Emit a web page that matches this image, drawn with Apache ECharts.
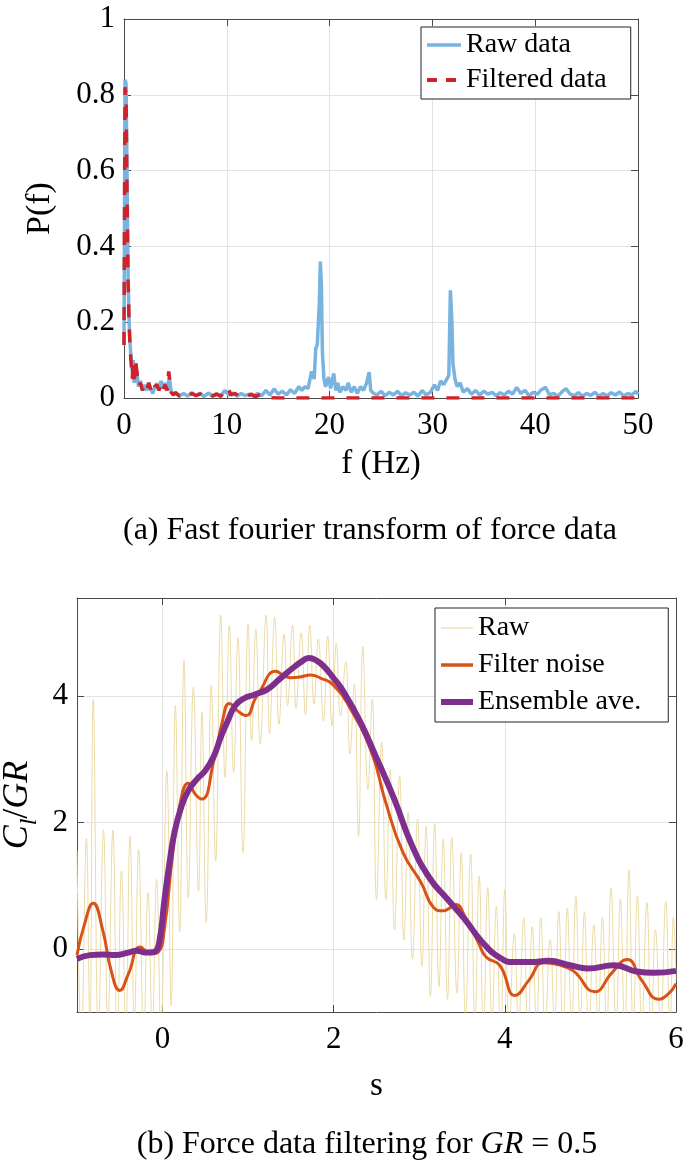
<!DOCTYPE html>
<html><head><meta charset="utf-8">
<script src="https://cdn.jsdelivr.net/npm/echarts@6/dist/echarts.min.js"></script>
<style>html,body{margin:0;padding:0;background:#fff}#c{width:685px;height:1170px}</style>
</head><body><div id="c"></div>
<script>
// ---------- (a) FFT data: [frequency Hz, P(f)] ----------
const fftRaw = [[0,0.14],[0.1,0.84],[0.2,0.83],[0.3,0.58],[0.4,0.32],[0.5,0.2],[0.6,0.14],[0.7,0.1],[0.8,0.07],[0.9,0.1],[1.0,0.04],[1.1,0.09],[1.25,0.07],[1.4,0.03],[1.6,0.045],[1.8,0.02],[2.0,0.035],[2.2,0.02],[2.4,0.04],[2.6,0.025],[2.8,0.012],[3.0,0.03],[3.2,0.038],[3.4,0.02],[3.6,0.045],[3.8,0.025],[4.0,0.04],[4.2,0.02],[4.4,0.055],[4.6,0.015],[4.8,0.008],
[5.0,0.015],[5.4,0.006],[5.8,0.012],[6.2,0.005],[6.6,0.014],[7.0,0.007],[7.4,0.012],[7.8,0.004],[8.2,0.013],[8.6,0.006],[9.0,0.011],[9.4,0.005],[9.8,0.02],[10.2,0.008],[10.6,0.013],[11.0,0.005],[11.4,0.012],[11.8,0.006],[12.2,0.01],[12.6,0.004],[13.0,0.012],[13.4,0.006],[13.8,0.02],[14.2,0.008],[14.6,0.024],[15.0,0.01],[15.4,0.018],[15.8,0.008],[16.2,0.022],[16.6,0.012],[17.0,0.03],[17.3,0.02],[17.6,0.03],[17.9,0.025],[18.25,0.07],[18.5,0.05],[18.65,0.13],[18.8,0.14],[19.0,0.25],[19.1,0.36],[19.2,0.3],[19.3,0.12],[19.45,0.05],[19.6,0.03],[19.9,0.055],[20.1,0.025],[20.4,0.065],[20.6,0.02],[20.8,0.04],[21.0,0.015],[21.3,0.03],[21.6,0.02],[21.8,0.04],[22.1,0.015],[22.4,0.03],[22.7,0.012],[23.0,0.03],[23.3,0.02],[23.6,0.04],[23.85,0.068],[24.0,0.02],[24.3,0.012],[24.6,0.008],[25.0,0.018],[25.4,0.006],[25.8,0.015],[26.2,0.008],[26.6,0.018],[27.0,0.006],[27.4,0.014],[27.8,0.008],[28.2,0.015],[28.6,0.005],[29.0,0.02],[29.4,0.008],[29.8,0.015],[30.2,0.035],[30.5,0.02],[30.8,0.045],[31.1,0.035],[31.4,0.05],[31.6,0.06],[31.75,0.284],[31.9,0.2],[32.0,0.09],[32.2,0.05],[32.4,0.03],[32.7,0.04],[33.0,0.015],[33.4,0.025],[33.8,0.01],[34.2,0.02],[34.6,0.008],[35.0,0.018],[35.4,0.01],[35.8,0.015],[36.2,0.006],[36.6,0.014],[37.0,0.008],[37.4,0.018],[37.8,0.01],[38.2,0.028],[38.6,0.012],[39.0,0.02],[39.4,0.006],[39.8,0.015],[40.2,0.01],[40.6,0.022],[41.0,0.028],[41.4,0.008],[41.8,0.012],[42.2,0.005],[42.6,0.016],[43.0,0.025],[43.4,0.01],[43.8,0.006],[44.2,0.014],[44.6,0.005],[45.0,0.012],[45.4,0.007],[45.8,0.015],[46.2,0.005],[46.6,0.012],[47.0,0.006],[47.4,0.014],[47.8,0.008],[48.2,0.016],[48.6,0.006],[49.0,0.012],[49.4,0.008],[49.8,0.018],[50,0.01]];

const fftFiltered = [[0,0.14],[0.1,0.82],[0.2,0.8],[0.3,0.52],[0.4,0.3],[0.5,0.19],[0.6,0.13],[0.7,0.09],[0.8,0.05],[0.9,0.1],[1.0,0.035],[1.1,0.105],[1.25,0.07],[1.4,0.03],[1.6,0.04],[1.8,0.02],[2.0,0.035],[2.2,0.02],[2.4,0.04],[2.6,0.022],[2.8,0.01],[3.0,0.03],[3.2,0.035],[3.4,0.02],[3.6,0.04],[3.8,0.022],[4.0,0.035],[4.2,0.02],[4.35,0.07],[4.6,0.015],[4.8,0.008],[5.0,0.014],[5.4,0.005],[5.8,0.011],[6.2,0.004],[6.6,0.012],[7.0,0.006],[7.4,0.011],[7.8,0.004],[8.2,0.012],[8.6,0.005],[9.0,0.01],[9.4,0.005],[9.8,0.014],[10.1,0.028],[10.4,0.008],[10.8,0.012],[11.2,0.005],[11.6,0.012],[12.0,0.005],[12.4,0.01],[12.8,0.004],[13.2,0.008],[13.6,0.003],[14.0,0.001],[15,0],[50,0]];

const fftXTicks = [0, 10, 20, 30, 40, 50];
const fftYTicks = [0, 0.2, 0.4, 0.6, 0.8, 1];

// ---------- (b) lift data: [s, Cl/GR] ----------
const liftRaw = [[-1.00,1.55],[-0.95,-1.5],[-0.89,1.75],[-0.85,-1.3],[-0.81,3.95],[-0.75,-1.4],[-0.69,1.88],[-0.64,-1.2],[-0.58,1.88],[-0.53,-1.5],[-0.48,1.23],[-0.43,-1.3],[-0.38,1.78],[-0.33,-1.2],[-0.28,1.57],[-0.22,-1.4],[-0.17,0.89],[-0.12,-1.2],[-0.07,1.1],[-0.02,-1.3],
[0.05,2.81],[0.10,-0.9],[0.15,3.85],[0.20,0.27],[0.25,4.56],[0.30,0.81],[0.36,4.14],[0.42,0.91],[0.46,3.74],[0.51,0.41],[0.57,4.17],[0.62,1.39],[0.68,5.28],[0.73,2.71],[0.78,5.12],[0.83,2.79],[0.88,4.93],[0.94,1.52],[1.00,5.14],[1.04,3.29],[1.09,5.06],[1.14,3.24],[1.21,5.28],[1.25,3.40],[1.31,5.25],[1.36,3.55],[1.42,4.98],[1.46,3.85],[1.52,5.12],[1.56,3.80],[1.62,5.0],[1.67,3.70],[1.72,5.12],[1.77,3.87],[1.82,4.9],[1.88,3.6],[1.93,4.95],[1.98,3.53],
[2.03,4.83],[2.08,3.68],[2.14,4.54],[2.19,3.08],[2.24,4.19],[2.29,1.78],[2.34,4.78],[2.40,2.52],[2.45,3.95],[2.50,0.78],[2.56,3.27],[2.61,0.78],[2.66,2.84],[2.71,0.30],[2.77,2.74],[2.82,0.14],[2.87,2.16],[2.92,-0.17],[2.98,2.05],[3.03,-0.28],[3.08,1.94],[3.13,-0.75],[3.18,1.98],[3.23,-0.6],[3.28,1.74],[3.33,-0.8],[3.38,1.76],[3.44,-0.7],[3.49,1.52],[3.54,-1.1],[3.60,1.5],[3.65,-1.2],[3.70,1.15],[3.75,-1.3],[3.80,0.97],[3.85,-1.2],[3.90,0.67],[3.95,-1.4],
[4.00,0.94],[4.05,-1.3],[4.11,0.24],[4.16,-1.2],[4.22,0.49],[4.27,-1.4],[4.32,0.35],[4.37,-1.2],[4.42,0.49],[4.47,-1.3],[4.53,0.15],[4.58,-1.2],[4.63,0.59],[4.68,-1.4],[4.73,0.64],[4.78,-1.3],[4.83,0.83],[4.88,-1.2],[4.93,0.59],[4.98,-1.4],[5.04,0.38],[5.09,-1.2],[5.14,0.50],[5.19,-1.3],[5.24,0.96],[5.30,-1.2],[5.35,0.79],[5.40,-1.4],[5.45,1.25],[5.50,-1.3],[5.55,0.84],[5.60,-1.2],[5.66,0.73],[5.71,-1.4],[5.76,0.31],[5.82,-1.2],[5.88,0.75],[5.93,-1.3],[5.97,0.5],[6.00,-0.5]];

const liftFiltered = [[-1.00,-0.10],[-0.92,0.35],[-0.81,0.72],[-0.70,0.30],[-0.60,-0.35],[-0.50,-0.66],[-0.40,-0.40],[-0.26,0.03],[-0.14,-0.08],[-0.05,-0.05],[0.02,0.30],[0.12,1.52],[0.22,2.40],[0.30,2.62],[0.38,2.45],[0.46,2.37],[0.60,2.98],[0.70,3.60],[0.78,3.88],[0.88,3.76],[0.98,3.69],[1.08,3.95],[1.17,4.15],[1.25,4.35],[1.32,4.39],[1.42,4.32],[1.50,4.29],[1.60,4.30],[1.73,4.33],[1.85,4.28],[1.99,4.18],[2.19,3.81],[2.45,3.08],[2.60,2.35],[2.81,1.52],[3.02,1.05],[3.17,0.65],[3.28,0.60],[3.35,0.64],[3.43,0.70],[3.53,0.52],[3.69,0.10],[3.78,-0.13],[3.94,-0.26],[4.12,-0.74],[4.28,-0.50],[4.45,-0.22],[4.62,-0.25],[4.80,-0.35],[5.05,-0.68],[5.25,-0.38],[5.43,-0.17],[5.60,-0.50],[5.80,-0.80],[5.92,-0.70],[6.00,-0.55]];

const liftEnsemble = [[-1.00,-0.16],[-0.85,-0.10],[-0.70,-0.09],[-0.55,-0.10],[-0.40,-0.06],[-0.30,-0.03],[-0.20,-0.06],[-0.10,-0.05],[-0.04,0.10],[0.02,0.75],[0.08,1.35],[0.14,1.85],[0.22,2.25],[0.30,2.50],[0.40,2.68],[0.50,2.82],[0.60,3.05],[0.68,3.35],[0.76,3.60],[0.85,3.85],[0.95,3.96],[1.07,4.02],[1.22,4.10],[1.37,4.27],[1.53,4.45],[1.62,4.54],[1.71,4.60],[1.80,4.56],[1.89,4.46],[2.00,4.28],[2.09,4.12],[2.30,3.62],[2.50,3.02],[2.71,2.36],[2.91,1.65],[3.12,1.12],[3.32,0.80],[3.53,0.47],[3.74,0.10],[3.94,-0.14],[4.10,-0.21],[4.30,-0.21],[4.51,-0.19],[4.76,-0.26],[4.97,-0.31],[5.28,-0.26],[5.54,-0.36],[5.74,-0.38],[6.00,-0.35]];

const liftXTicks = [0, 2, 4, 6];
const liftYTicks = [0, 2, 4];

// ---------- styling ----------
const SERIF = '"Liberation Serif", "Times New Roman", serif';
const AXC = '#4a4a4a';
const GRIDC = '#e3e3e3';
const C_RAWFFT = '#79b3df', C_FILTFFT = '#d02228', C_RAW = '#ecdba6', C_FILT = '#d95319', C_ENS = '#7e2f8e';

function xAx(grid, pos, min, max, interval, ticks, labels) {
  return {
    type: 'value', gridIndex: grid, position: pos, min: min, max: max, interval: interval,
    axisLine: { show: true, onZero: false, lineStyle: { color: AXC, width: 1 } },
    axisTick: { show: true, inside: true, length: 7, customValues: ticks, lineStyle: { color: AXC } },
    axisLabel: { show: labels, customValues: ticks, margin: 12, color: '#000', fontFamily: SERIF, fontSize: 31 },
    splitLine: { show: pos === 'bottom', lineStyle: { color: GRIDC, width: 1 } }
  };
}
function yAx(grid, pos, min, max, interval, ticks, labels) {
  return {
    type: 'value', gridIndex: grid, position: pos, min: min, max: max, interval: interval,
    axisLine: { show: true, onZero: false, lineStyle: { color: AXC, width: 1 } },
    axisTick: { show: true, inside: true, length: 7, customValues: ticks, lineStyle: { color: AXC } },
    axisLabel: { show: labels, customValues: ticks, margin: 9, color: '#000', fontFamily: SERIF, fontSize: 31 },
    splitLine: { show: pos === 'left', lineStyle: { color: GRIDC, width: 1 } }
  };
}

const xAxes = [
  xAx(0, 'bottom', 0, 50, 10, fftXTicks, true),
  xAx(0, 'top', 0, 50, 10, fftXTicks, false),
  xAx(1, 'bottom', -1, 6, 1, liftXTicks, true),
  xAx(1, 'top', -1, 6, 1, liftXTicks, false)
];
Object.assign(xAxes[0], { name: 'f (Hz)', nameLocation: 'middle', nameGap: 50, nameTextStyle: { fontFamily: SERIF, fontSize: 33, color: '#000' } });
Object.assign(xAxes[2], { name: 's', nameLocation: 'middle', nameGap: 58, nameTextStyle: { fontFamily: SERIF, fontSize: 33, color: '#000' } });

const yAxes = [
  yAx(0, 'left', 0, 1, 0.2, fftYTicks, true),
  yAx(0, 'right', 0, 1, 0.2, fftYTicks, false),
  yAx(1, 'left', -1, 5.55, 1, liftYTicks, true),
  yAx(1, 'right', -1, 5.55, 1, liftYTicks, false)
];
Object.assign(yAxes[0], { name: 'P(f)', nameLocation: 'middle', nameRotate: 90, nameGap: 67, nameTextStyle: { fontFamily: SERIF, fontSize: 34, color: '#000' } });
Object.assign(yAxes[2], {
  name: '{c|C}{l|l}{r|/}{g|GR}', nameLocation: 'middle', nameRotate: 90, nameGap: 30,
  nameTextStyle: {
    fontFamily: SERIF, fontSize: 34, color: '#000',
    rich: {
      c: { fontFamily: SERIF, fontSize: 36, fontStyle: 'italic', color: '#000', lineHeight: 48 },
      l: { fontFamily: SERIF, fontSize: 24, fontStyle: 'italic', color: '#000', lineHeight: 48, verticalAlign: 'bottom' },
      r: { fontFamily: SERIF, fontSize: 36, color: '#000', lineHeight: 48 },
      g: { fontFamily: SERIF, fontSize: 36, fontStyle: 'italic', color: '#000', lineHeight: 48 }
    }
  }
});

const chart = echarts.init(document.getElementById('c'), null, { renderer: 'canvas' });
chart.setOption({
  animation: false,
  backgroundColor: '#fff',
  grid: [
    { left: 124, top: 19, right: 47, height: 379, outerBoundsMode: 'none', containLabel: false },
    { left: 77, top: 598, right: 9, height: 414, outerBoundsMode: 'none', containLabel: false }
  ],
  xAxis: xAxes,
  yAxis: yAxes,
  legend: [
    {
      data: [
        { name: 'Raw data', lineStyle: { color: C_RAWFFT, width: 3.5 } },
        { name: 'Filtered data', lineStyle: { color: C_FILTFFT, width: 4, type: [10, 9] } }
      ],
      orient: 'vertical', left: 421, top: 27,
      padding: [4, 24, 5, 4], itemGap: 7, itemWidth: 34, itemHeight: 14,
      backgroundColor: '#fff', borderColor: '#222', borderWidth: 1,
      itemStyle: { opacity: 0 },
      textStyle: { fontFamily: SERIF, fontSize: 28, color: '#000' }, selectedMode: false
    },
    {
      data: [
        { name: 'Raw', lineStyle: { color: C_RAW, width: 1.2 } },
        { name: 'Filter noise', lineStyle: { color: C_FILT, width: 3.5 } },
        { name: 'Ensemble ave.', lineStyle: { color: C_ENS, width: 6 } }
      ],
      orient: 'vertical', left: 435, top: 608,
      padding: [6, 27, 6, 3], itemGap: 9, itemWidth: 32, itemHeight: 14,
      backgroundColor: '#fff', borderColor: '#222', borderWidth: 1,
      itemStyle: { opacity: 0 },
      textStyle: { fontFamily: SERIF, fontSize: 28, color: '#000' }, selectedMode: false
    }
  ],
  series: [
    { name: 'Raw data', type: 'line', xAxisIndex: 0, yAxisIndex: 0, data: fftRaw, showSymbol: false, symbol: 'none',
      lineStyle: { color: C_RAWFFT, width: 3.5 }, itemStyle: { color: C_RAWFFT, opacity: 0 }, z: 2 },
    { name: 'Filtered data', type: 'line', xAxisIndex: 0, yAxisIndex: 0, data: fftFiltered, showSymbol: false, symbol: 'none',
      lineStyle: { color: C_FILTFFT, width: 3.5, type: [13, 12] }, itemStyle: { color: C_FILTFFT, opacity: 0 }, z: 3 },
    { name: 'Raw', type: 'line', xAxisIndex: 2, yAxisIndex: 2, data: liftRaw, showSymbol: false, symbol: 'none', smooth: 0.45,
      lineStyle: { color: C_RAW, width: 1 }, itemStyle: { color: C_RAW, opacity: 0 }, z: 2 },
    { name: 'Filter noise', type: 'line', xAxisIndex: 2, yAxisIndex: 2, data: liftFiltered, showSymbol: false, symbol: 'none', smooth: 0.5,
      lineStyle: { color: C_FILT, width: 3 }, itemStyle: { color: C_FILT, opacity: 0 }, z: 3 },
    { name: 'Ensemble ave.', type: 'line', xAxisIndex: 2, yAxisIndex: 2, data: liftEnsemble, showSymbol: false, symbol: 'none', smooth: 0.5,
      lineStyle: { color: C_ENS, width: 6 }, itemStyle: { color: C_ENS, opacity: 0 }, z: 4 }
  ],
  graphic: [
    { type: 'text', x: 370, y: 531, style: { text: '(a) Fast fourier transform of force data', fontFamily: SERIF, fontSize: 32, fill: '#000', align: 'center', verticalAlign: 'middle' } },
    { type: 'text', x: 367, y: 1145, style: {
        text: '{a|(b) Force data filtering for }{i|GR}{a| = 0.5}', align: 'center', verticalAlign: 'middle',
        rich: {
          a: { fontFamily: SERIF, fontSize: 32, fill: '#000' },
          i: { fontFamily: SERIF, fontSize: 32, fontStyle: 'italic', fill: '#000' }
        } } }
  ]
});
</script></body></html>
